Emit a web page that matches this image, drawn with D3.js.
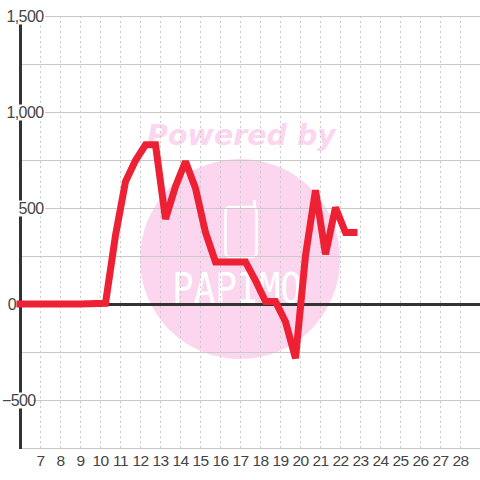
<!DOCTYPE html>
<html><head><meta charset="utf-8">
<script src="https://cdnjs.cloudflare.com/ajax/libs/d3/7.8.5/d3.min.js"></script>
<style>html,body{margin:0;padding:0;background:#fff}svg{display:block}</style></head>
<body><svg id="c" width="480" height="480"></svg>
<script>
const xTicks = [7,8,9,10,11,12,13,14,15,16,17,18,19,20,21,22,23,24,25,26,27,28];
const yGrid = [-750,-500,-250,0,250,500,750,1000,1250,1500];
const yLabels = [-500,0,500,1000,1500];
const times = [5.8,9,10.25,10.75,11.25,11.75,12.25,12.75,13.25,13.75,14.25,14.75,15.25,15.75,16.25,17.25,17.75,18.25,18.75,19.25,19.75,20.25,20.75,21.25,21.75,22.25,22.85];
const values = [3,3,6,360,640,750,832,832,445,615,745,605,375,222,222,222,125,15,15,-90,-280,255,595,262,505,375,375];

const svg = d3.select("#c");
const x = d3.scaleLinear().domain([5.975,28.975]).range([20,480]);
const y = d3.scaleLinear().domain([-750,1500]).range([448.5,16.5]);

// watermark
svg.append("circle").attr("cx",240).attr("cy",259).attr("r",100).attr("fill","#fcd5ee");
svg.append("text").attr("x",241.5).attr("y",145).attr("text-anchor","middle")
  .attr("font-family","DejaVu Sans").attr("font-weight","bold").attr("font-style","italic")
  .attr("font-size",28.5).attr("fill","#fcd5ee").text("Powered by");
svg.append("rect").attr("x",225.5).attr("y",207).attr("width",31).attr("height",50).attr("rx",4)
  .attr("fill","none").attr("stroke","#fff").attr("stroke-width",2.5);
svg.append("line").attr("x1",254.5).attr("x2",254.5).attr("y1",200).attr("y2",208).attr("stroke","#fff").attr("stroke-width",3);
svg.append("text").attr("x",237).attr("y",303).attr("text-anchor","middle")
  .attr("font-family","DejaVu Sans Mono").attr("font-size",42).attr("textLength",130).attr("lengthAdjust","spacingAndGlyphs")
  .attr("fill","#fff").text("PAPIMO");

// grid
svg.append("g").selectAll("line").data(yGrid.filter(d=>d!==0)).join("line")
  .attr("x1",20).attr("x2",480).attr("y1",d=>y(d)).attr("y2",d=>y(d))
  .attr("stroke","#c9c9c9").attr("stroke-width",1);
svg.append("g").selectAll("line").data(xTicks).join("line")
  .attr("x1",d=>x(d)).attr("x2",d=>x(d)).attr("y1",16).attr("y2",448)
  .attr("stroke","#c9c9c9").attr("stroke-width",1).attr("stroke-dasharray","2,3");

// axes
svg.append("line").attr("x1",20.5).attr("x2",20.5).attr("y1",16).attr("y2",449).attr("stroke","#333").attr("stroke-width",3);
svg.append("line").attr("x1",20).attr("x2",480).attr("y1",y(0)).attr("y2",y(0)).attr("stroke","#333").attr("stroke-width",3);

// y labels with white backing
const fmt = d3.format(",");
const lab = svg.append("g").selectAll("g").data(yLabels).join("g").attr("transform",d=>`translate(${d<0?2:d===0?16:43.5},${y(d)})`);
lab.append("rect").attr("x",d=>d<0?0:d===0?-10:-43.5).attr("y",-8).attr("width",d=>d<0?31:d===0?0:45).attr("height",16).attr("fill","#fff");
lab.append("text").attr("text-anchor",d=>d<0?"start":"end").attr("dy","0.35em")
  .attr("font-family","Liberation Sans").attr("font-size",16).attr("letter-spacing",-0.6).attr("fill","#444").text(d=>fmt(d));

// x labels
svg.append("g").selectAll("text").data(xTicks).join("text")
  .attr("x",d=>x(d)).attr("y",466).attr("text-anchor","middle")
  .attr("font-family","Liberation Sans").attr("font-size",15.5).attr("letter-spacing",-0.5).attr("fill","#444").text(d=>d);

// series
const line = d3.line().x((d,i)=>x(times[i])).y(d=>y(d));
svg.append("path").attr("d",line(values)).attr("fill","none").attr("stroke","#ee2034")
  .attr("stroke-width",7).attr("stroke-linejoin","miter").attr("stroke-miterlimit",2);
</script></body></html>
